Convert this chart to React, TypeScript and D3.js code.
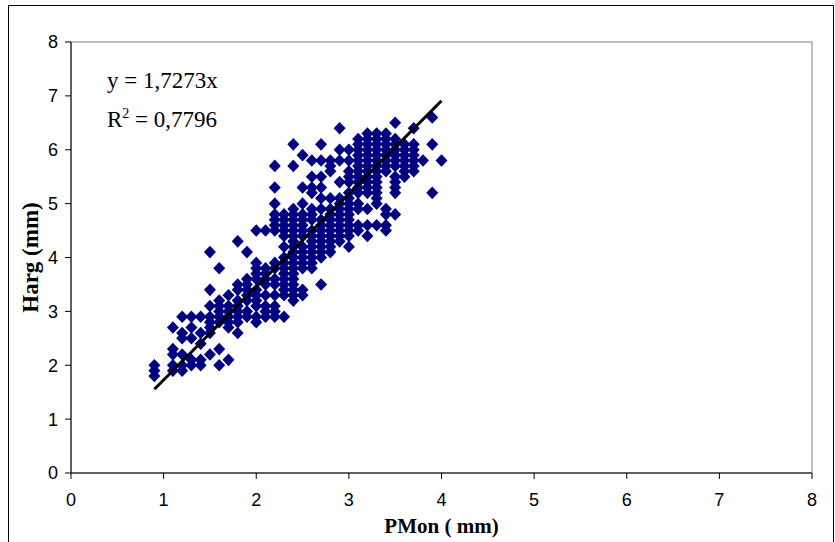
import React from "react";
import * as d3 from "d3";

// PMon (mm) column values and the Harg (mm) values observed at each
const pmonColumns = [0.9, 1.1, 1.2, 1.3, 1.4, 1.5, 1.6, 1.7, 1.8, 1.9, 2.0, 2.1, 2.2, 2.3, 2.4, 2.5, 2.6, 2.7, 2.8, 2.9, 3.0, 3.1, 3.2, 3.3, 3.4, 3.5, 3.6, 3.7, 3.8, 3.9, 4.0];
const hargByColumn: number[][] = [
  [2.0, 1.9, 1.8],
  [2.7, 2.3, 2.2, 2.0, 1.9],
  [2.9, 2.6, 2.5, 2.2, 2.0, 1.9],
  [2.9, 2.7, 2.5, 2.1, 2.0],
  [2.9, 2.6, 2.4, 2.1, 2.0],
  [4.1, 3.4, 3.1, 2.9, 2.8, 2.7, 2.6, 2.2],
  [3.8, 3.2, 3.1, 3.0, 2.9, 2.8, 2.3, 2.0],
  [3.3, 3.1, 3.0, 2.9, 2.8, 2.7, 2.1],
  [4.3, 3.5, 3.4, 3.2, 3.1, 3.0, 2.9, 2.8, 2.6],
  [4.1, 3.6, 3.5, 3.4, 3.3, 3.2, 3.0, 2.9],
  [4.5, 3.9, 3.8, 3.7, 3.6, 3.4, 3.3, 3.2, 3.1, 2.9, 2.8],
  [4.5, 3.8, 3.7, 3.6, 3.5, 3.3, 3.1, 3.0, 2.9],
  [5.7, 5.3, 5.0, 4.8, 4.7, 4.6, 4.5, 3.9, 3.8, 3.6, 3.5, 3.3, 3.1, 3.0, 2.9],
  [4.8, 4.7, 4.6, 4.5, 4.4, 4.2, 4.0, 3.9, 3.8, 3.7, 3.6, 3.5, 3.4, 3.3, 2.9],
  [6.1, 5.7, 4.9, 4.8, 4.7, 4.6, 4.5, 4.4, 4.3, 4.2, 4.1, 4.0, 3.9, 3.8, 3.7, 3.6, 3.5, 3.4, 3.3, 3.2],
  [5.9, 5.3, 5.0, 4.8, 4.7, 4.6, 4.5, 4.4, 4.2, 4.1, 4.0, 3.9, 3.8, 3.4, 3.3],
  [5.8, 5.5, 5.3, 5.2, 4.9, 4.8, 4.7, 4.5, 4.4, 4.3, 4.2, 4.1, 4.0, 3.9, 3.8],
  [6.1, 5.8, 5.5, 5.3, 5.1, 4.9, 4.7, 4.6, 4.5, 4.4, 4.3, 4.2, 4.1, 4.0, 3.5],
  [5.8, 5.7, 5.6, 5.1, 4.9, 4.8, 4.7, 4.6, 4.5, 4.4, 4.3, 4.2, 4.1],
  [6.4, 6.0, 5.8, 5.4, 5.1, 5.0, 4.9, 4.8, 4.7, 4.6, 4.5, 4.4, 4.3],
  [6.0, 5.8, 5.6, 5.5, 5.4, 5.2, 5.1, 5.0, 4.9, 4.8, 4.7, 4.6, 4.5, 4.4, 4.2],
  [6.2, 6.1, 6.0, 5.9, 5.8, 5.7, 5.6, 5.5, 5.4, 5.3, 5.2, 5.0, 4.9, 4.6, 4.5],
  [6.3, 6.2, 6.1, 6.0, 5.9, 5.8, 5.7, 5.6, 5.5, 5.4, 5.3, 5.2, 4.9, 4.6, 4.4],
  [6.3, 6.2, 6.1, 6.0, 5.9, 5.8, 5.7, 5.6, 5.5, 5.4, 5.3, 5.2, 5.1, 5.0, 4.6],
  [6.3, 6.2, 6.1, 6.0, 5.9, 5.8, 5.7, 5.6, 4.9, 4.8, 4.6, 4.5],
  [6.5, 6.2, 6.1, 6.0, 5.9, 5.8, 5.7, 5.5, 5.4, 5.3, 5.2, 4.8],
  [6.1, 6.0, 5.9, 5.8, 5.7, 5.6, 5.5],
  [6.4, 6.1, 6.0, 5.9, 5.8, 5.7, 5.6],
  [5.8],
  [6.6, 6.1, 5.2],
  [5.8],
];

const trendSlope = 1.7273;
const trendRange = [0.9, 4.0];
const xTicks = [0, 1, 2, 3, 4, 5, 6, 7, 8];
const yTicks = [0, 1, 2, 3, 4, 5, 6, 7, 8];

export default function App() {
  const W = 835;
  const H = 542;
  const left = 71, right = 812, top = 42, bottom = 473;
  const x = d3.scaleLinear().domain([0, 8]).range([left, right]);
  const y = d3.scaleLinear().domain([0, 8]).range([bottom, top]);

  const points: [number, number][] = [];
  pmonColumns.forEach((px, i) => hargByColumn[i].forEach((hy) => points.push([px, hy])));

  const dx = 6;
  const dy = 6.3;
  const diamond = (cx: number, cy: number) =>
    `M${cx},${cy - dy}L${cx + dx},${cy}L${cx},${cy + dy}L${cx - dx},${cy}Z`;

  const line = d3
    .line<number>()
    .x((v) => x(v))
    .y((v) => y(trendSlope * v));

  return (
    <div style={{ position: "fixed", left: 0, top: 0 }}>
      <svg width={W} height={H} style={{ display: "block", background: "#fff" }}>
        <rect x={8.5} y={5.5} width={825} height={545} fill="none" stroke="#000" strokeWidth={1} />
        {/* plot area border */}
        <rect x={left} y={top} width={right - left} height={bottom - top} fill="none" stroke="#808080" strokeWidth={1} />
        {/* points */}
        <g fill="#000080">
          {points.map(([px, py], i) => (
            <path key={i} d={diamond(x(px), y(py))} />
          ))}
        </g>
        {/* trendline */}
        <path d={line(trendRange) || ""} stroke="#000" strokeWidth={3} fill="none" />
        {/* axes */}
        <line x1={left} x2={left} y1={top} y2={bottom} stroke="#000" />
        <line x1={left} x2={right} y1={bottom} y2={bottom} stroke="#000" />
        {yTicks.map((t) => (
          <g key={"y" + t}>
            <line x1={left - 6} x2={left} y1={y(t)} y2={y(t)} stroke="#000" />
            <text x={left - 13} y={y(t)} dy="0.36em" textAnchor="end" fontFamily="Liberation Sans, Arial, sans-serif" fontSize={18}>
              {t}
            </text>
          </g>
        ))}
        {xTicks.map((t) => (
          <g key={"x" + t}>
            <line x1={x(t)} x2={x(t)} y1={bottom} y2={bottom + 6} stroke="#000" />
            <text x={x(t)} y={506} textAnchor="middle" fontFamily="Liberation Sans, Arial, sans-serif" fontSize={18}>
              {t}
            </text>
          </g>
        ))}
        <text x={(left + right) / 2} y={533} textAnchor="middle" fontFamily="Liberation Serif, Times New Roman, serif" fontWeight="bold" fontSize={21}>
          PMon ( mm)
        </text>
        <text
          transform={`translate(38,${(top + bottom) / 2}) rotate(-90)`}
          textAnchor="middle"
          fontFamily="Liberation Serif, Times New Roman, serif"
          fontWeight="bold"
          fontSize={23}
        >
          Harg (mm)
        </text>
        <text x={107} y={88} fontFamily="Liberation Serif, Times New Roman, serif" fontSize={23}>
          y = 1,7273x
        </text>
        <text x={107} y={127} fontFamily="Liberation Serif, Times New Roman, serif" fontSize={23}>
          R<tspan dy={-9} fontSize={14}>2</tspan>
          <tspan dy={9}> = 0,7796</tspan>
        </text>
      </svg>
    </div>
  );
}
